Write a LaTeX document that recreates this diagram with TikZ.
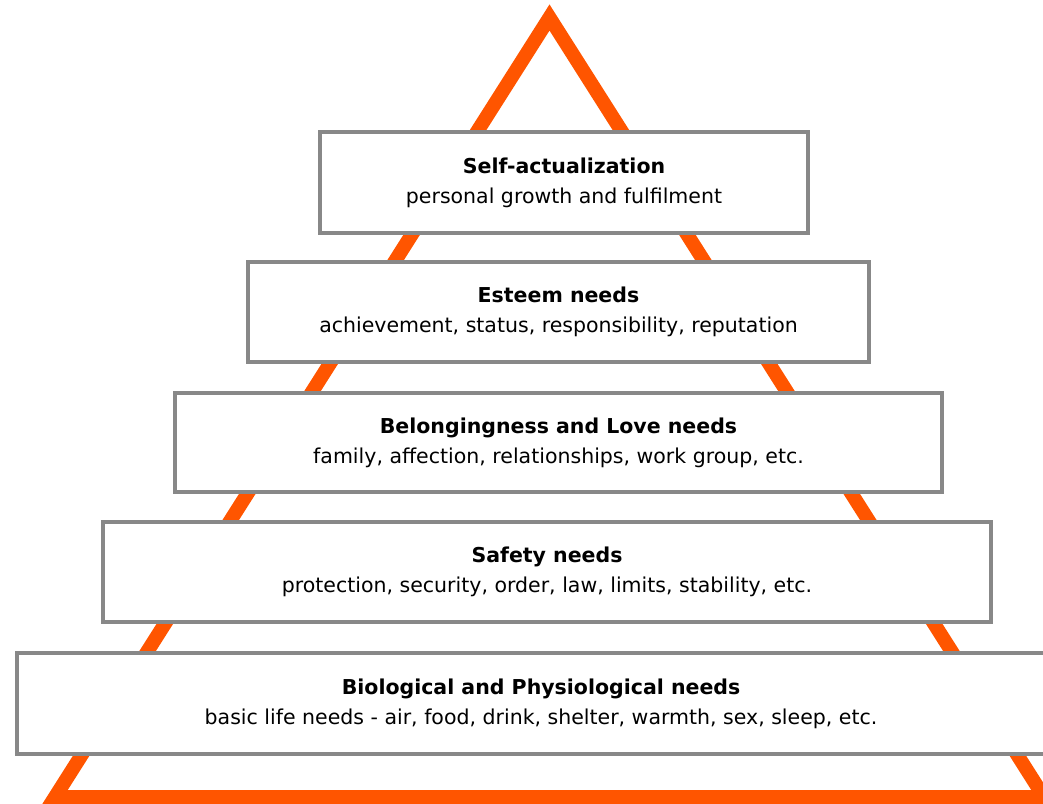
\documentclass[tikz,border=0pt]{standalone}
\usepackage{fontspec}
\setmainfont{DejaVu Sans}
\definecolor{pyrorange}{RGB}{255,85,0}
\definecolor{boxgray}{RGB}{136,136,136}
\begin{document}
\begin{tikzpicture}[x=1pt,y=-1pt,line join=miter,
	level/.style={draw=boxgray,line width=4pt,fill=white,align=center,inner sep=0pt,
		font=\fontsize{20.5}{30}\selectfont}]
	\clip (0,0) rectangle (1043,803);
	\draw[pyrorange,line width=14pt] (549.5,17.5)--(1044,797)--(55,797)--cycle;
	\node[level,minimum width=488pt,minimum height=101pt] (selfact) at (564,182.5)
		{\textbf{Self-actualization}\\personal growth and fulfilment};
	\node[level,minimum width=621pt,minimum height=100pt] (esteem) at (558.5,312)
		{\textbf{Esteem needs}\\achievement, status, responsibility, reputation};
	\node[level,minimum width=767pt,minimum height=99pt] (love) at (558.5,442.5)
		{\textbf{Belongingness and Love needs}\\family, affection, relationships, work group, etc.};
	\node[level,minimum width=888pt,minimum height=100pt] (safety) at (547,572)
		{\textbf{Safety needs}\\protection, security, order, law, limits, stability, etc.};
	\node[level,minimum width=1049pt,minimum height=101pt] (bio) at (541,703.5)
		{\textbf{Biological and Physiological needs}\\basic life needs - air, food, drink, shelter, warmth, sex, sleep, etc.};
\end{tikzpicture}
\end{document}
